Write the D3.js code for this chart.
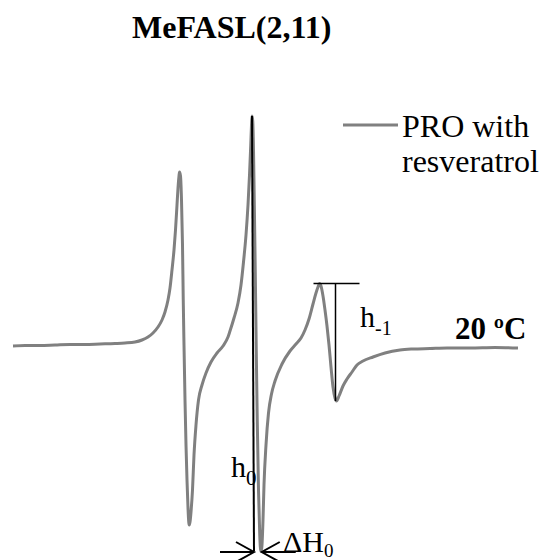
<!DOCTYPE html>
<html>
<head>
<meta charset="utf-8">
<script src="https://cdn.jsdelivr.net/npm/d3@7"></script>
<style>
  html, body { margin: 0; padding: 0; background: #fff; }
  svg { display: block; }
  text { font-family: "Liberation Serif", "Times New Roman", serif; fill: #000; }
</style>
</head>
<body>
<svg id="chart" width="539" height="560"></svg>
<script>
// EPR spectrum of the MeFASL(2,11) spin label, 20 °C
const title = "MeFASL(2,11)";
const seriesName = ["PRO with", "resveratrol"];
const tempLabel = "20 ºC";

// Magnetic field (G)
const field = [
  3300.0, 3302.4, 3305.4, 3308.4, 3311.4, 3314.4, 3317.4, 3320.4, 3322.4, 3324.4,
  3325.8, 3327.0, 3328.0, 3329.0, 3329.8, 3330.4, 3331.0, 3331.4, 3331.8, 3332.2,
  3332.5, 3332.8, 3333.0, 3333.2, 3333.3, 3333.5, 3333.7, 3333.9, 3334.05, 3334.2,
  3334.4, 3334.6, 3334.8, 3335.0, 3335.15, 3335.25, 3335.4, 3335.6, 3335.9, 3336.2,
  3336.6, 3337.1, 3337.8, 3338.6, 3339.6, 3340.8, 3342.0, 3343.0, 3343.4, 3344.2,
  3345.0, 3345.6, 3346.1, 3346.6, 3347.0, 3347.3, 3347.55, 3347.7, 3347.8, 3347.95,
  3348.1, 3348.25, 3348.45, 3348.65, 3348.85, 3349.1, 3349.35, 3349.55, 3349.75, 3350.0,
  3350.2, 3350.6, 3351.1, 3351.7, 3352.4, 3353.8, 3355.4, 3356.6, 3357.6, 3358.4,
  3359.2, 3360.0, 3360.6, 3361.0, 3361.3, 3361.6, 3362.0, 3362.4, 3362.8, 3363.2,
  3363.6, 3364.0, 3364.4, 3364.7, 3365.2, 3366.0, 3366.8, 3367.8, 3368.8, 3370.0,
  3372.0, 3374.4, 3377.4, 3380.0, 3383.4, 3386.8, 3391.4, 3396.4, 3401.0
];

// First-derivative signal intensity (a.u.)
const intensity = [
  0.5, 0.75, 0.75, 1, 1.25, 1.25, 1.5, 1.75, 2, 2.5,
  3.5, 5, 7, 10, 13.5, 17.5, 23.5, 29.5, 38.5, 48.5,
  58.5, 71, 79.5, 85.5, 87.5, 85.5, 73.5, 51, 23.5, 1,
  -26.5, -49, -66.5, -80.5, -87.5, -89, -87.5, -82.5, -71.5, -54,
  -39, -26.5, -19, -13, -7.5, -3, 0.5, 5, 8, 14.5,
  22, 31, 42.5, 56, 71, 86, 101, 111, 115.5, 113,
  98.5, 73.5, 38.5, -1.5, -36.5, -71.5, -94, -102, -100.5, -86.5,
  -69, -49, -33, -23.5, -17, -8.5, -2, 1.5, 4.5, 8.5,
  14, 21.5, 27, 30, 31.75, 30.5, 25.5, 18.5, 10.5, 1,
  -10, -20, -25.5, -27, -24.5, -19.5, -16, -12.5, -9, -7,
  -5, -3, -1.5, -1, -0.75, -0.5, -0.5, -0.25, -0.5
];

const data = field.map((f, i) => ({ f, v: intensity[i] }));

const svg = d3.select("#chart");
const x = d3.scaleLinear().domain([3300, 3401]).range([13, 518]);
const y = d3.scaleLinear().domain([-105, 120]).range([557, 107]);

const grey = "#808080";

// Spectrum trace
svg.append("path")
  .datum(data)
  .attr("fill", "none")
  .attr("stroke", grey)
  .attr("stroke-width", 3)
  .attr("stroke-linejoin", "round")
  .attr("d", d3.line().x(d => x(d.f)).y(d => y(d.v)).curve(d3.curveMonotoneX));

// Central line: peak-to-peak amplitude h0 and line width ΔH0
const iMax = d3.maxIndex(data, d => d.v);
const iMin = d3.minIndex(data, d => d.v);
const cMax = data[iMax], cMin = data[iMin];

svg.append("line")
  .attr("x1", x(cMax.f)).attr("y1", y(cMax.v))
  .attr("x2", x(cMax.f) + 2).attr("y2", y(cMin.v))
  .attr("stroke", "#000").attr("stroke-width", 2);

function arrow(xTip, yTip, dir, len) {
  const g = svg.append("g").attr("stroke", "#000").attr("stroke-width", 2).attr("fill", "none");
  g.append("line").attr("x1", xTip - dir * len).attr("y1", yTip).attr("x2", xTip).attr("y2", yTip);
  g.append("polyline")
    .attr("points", `${xTip - dir * 18},${yTip - 10} ${xTip},${yTip} ${xTip - dir * 18},${yTip + 10}`);
}
const yArr = y(cMin.v) + 1;
arrow(x(cMax.f) + 2, yArr, 1, 34);
arrow(x(cMin.f) + 1, yArr, -1, 34);

// High-field line: amplitude h-1
const hi = data.filter(d => d.f > 3355);
const hMax = hi[d3.maxIndex(hi, d => d.v)];
const hMin = hi[d3.minIndex(hi, d => d.v)];
svg.append("line")
  .attr("x1", x(hMax.f) - 6).attr("y1", y(hMax.v))
  .attr("x2", x(hMax.f) + 40).attr("y2", y(hMax.v))
  .attr("stroke", "#000").attr("stroke-width", 1.5);
svg.append("line")
  .attr("x1", x(hMin.f) - 1).attr("y1", y(hMax.v))
  .attr("x2", x(hMin.f) - 1).attr("y2", y(hMin.v))
  .attr("stroke", "#000").attr("stroke-width", 1.5);

// Labels
svg.append("text").attr("x", 132).attr("y", 38)
  .attr("font-size", 32).attr("font-weight", "bold").text(title);

const h0 = svg.append("text").attr("x", 231).attr("y", 477).attr("font-size", 30);
h0.append("tspan").text("h");
h0.append("tspan").attr("font-size", 21).attr("dy", 8).text("0");

const dH = svg.append("text").attr("x", 283).attr("y", 552).attr("font-size", 30);
dH.append("tspan").text("ΔH");
dH.append("tspan").attr("font-size", 19).attr("dy", 5).text("0");

const h1 = svg.append("text").attr("x", 360).attr("y", 327).attr("font-size", 30);
h1.append("tspan").text("h");
h1.append("tspan").attr("font-size", 20).attr("dy", 8).text("-1");

svg.append("text").attr("x", 455).attr("y", 339)
  .attr("font-size", 31).attr("font-weight", "bold").text(tempLabel);

// Legend
svg.append("line").attr("x1", 343).attr("x2", 398).attr("y1", 125).attr("y2", 125)
  .attr("stroke", grey).attr("stroke-width", 3);
svg.selectAll("text.legend").data(seriesName).join("text")
  .attr("class", "legend")
  .attr("x", 402).attr("y", (d, i) => 137 + i * 35)
  .attr("font-size", 32).text(d => d);
</script>
</body>
</html>
